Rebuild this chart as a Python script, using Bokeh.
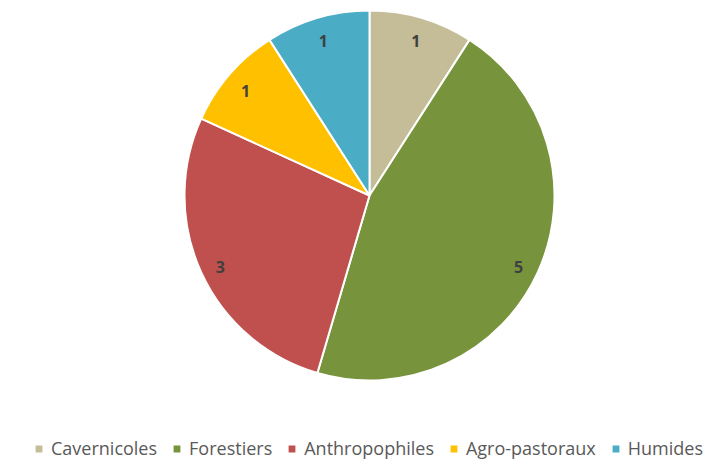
import math
from bokeh.plotting import figure
from bokeh.models import ColumnDataSource, Range1d, Legend, LegendItem
from bokeh.core.properties import value
from bokeh.embed import file_html
from bokeh.resources import INLINE

# Species groups and their counts
categories = ["Cavernicoles", "Forestiers", "Anthropophiles", "Agro-pastoraux", "Humides"]
counts = [1, 5, 3, 1, 1]
colors = ["#C4BD97", "#77933C", "#C0504D", "#FFC000", "#4BACC6"]

W, H = 725, 459
cx, cy = 369, 264          # pie centre (data units = pixels)
radius = 185
label_r = 164

total = sum(counts)
starts, ends, lx, ly = [], [], [], []
cum = 0
for c in counts:
    a0 = math.pi / 2 - 2 * math.pi * (cum + c) / total
    a1 = math.pi / 2 - 2 * math.pi * cum / total
    mid = (a0 + a1) / 2
    starts.append(a0)
    ends.append(a1)
    lx.append(cx + label_r * math.cos(mid))
    ly.append(cy + label_r * math.sin(mid) - 3)
    cum += c

src = ColumnDataSource(dict(
    cat=categories, count=counts, color=colors,
    start=starts, end=ends, lx=lx, ly=ly,
    txt=[str(c) for c in counts],
))

p = figure(width=W, height=H, output_backend="svg", toolbar_location=None,
           x_range=Range1d(0, W), y_range=Range1d(0, H), min_border=0)
p.axis.visible = False
p.grid.visible = False
p.outline_line_color = None
p.background_fill_color = "white"

wedges = p.wedge(x=cx, y=cy, radius=radius, start_angle="start", end_angle="end",
                 fill_color="color", line_color="white", line_width=2, source=src)

p.text(x="lx", y="ly", text="txt", source=src, text_align="center",
       text_baseline="middle", text_font=value("Open Sans"), text_font_size="16px",
       text_font_style="bold", text_color="#404040")

legend = Legend(items=[LegendItem(label=c, renderers=[wedges], index=i)
                       for i, c in enumerate(categories)],
                location=(33, -1), orientation="horizontal")
legend.glyph_width = 11
legend.glyph_height = 11
legend.label_standoff = 7
legend.spacing = 14
legend.padding = 0
legend.margin = 0
legend.label_text_font = "Open Sans"
legend.label_text_font_size = "18px"
legend.label_text_color = "#595959"
legend.background_fill_alpha = 0
legend.border_line_alpha = 0
p.add_layout(legend)

open("out.html", "w").write(file_html(p, INLINE))
